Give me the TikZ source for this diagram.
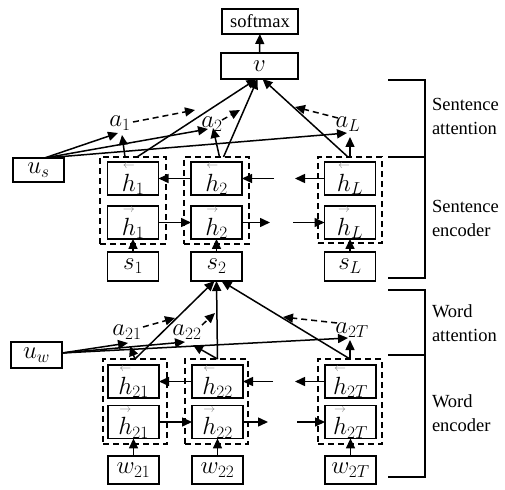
\documentclass[tikz,border=0pt]{standalone}
\usepackage{amsmath}
\usepackage{fontspec}
\setmainfont{Liberation Serif}
\usetikzlibrary{arrows.meta,calc}
\newcommand{\bwd}{\overset{\textcolor{gray}{\scriptscriptstyle\leftarrow}}{h}}
\newcommand{\fwd}{\overset{\textcolor{gray}{\scriptscriptstyle\rightarrow}}{h}}
\begin{document}
\begin{tikzpicture}[x=1pt,y=-1pt,
  every node/.style={inner sep=0pt, outer sep=0pt},
  box/.style={draw, line width=1.5pt, minimum width=51pt, minimum height=29pt, font=\fontsize{25}{29}\selectfont},
  grp/.style={draw, line width=1.5pt, dash pattern=on 6pt off 4pt},
  ar/.style={line width=1.5pt, -{Triangle[length=10pt,width=9pt]}},
  dar/.style={ar, dash pattern=on 6pt off 4pt},
  lab/.style={font=\fontsize{24}{28}\selectfont},
  side/.style={font=\fontsize{18.5}{24}\selectfont, align=left, anchor=west},
  brk/.style={line width=1.5pt}
]
\useasboundingbox (0,0) rectangle (505,489);

% top
\node[box, minimum width=76pt, minimum height=25pt, font=\fontsize{18.5}{22}\selectfont] (soft) at (260,21.5) {softmax};
\node[box, minimum width=77pt, minimum height=26pt] (v) at (259.5,66) {$v$};
\draw[ar] (v) -- (soft);

% sentence level
\node[box, minimum height=24pt] (us) at (38.5,170) {$u_s$};
\node[grp, minimum width=66pt, minimum height=87pt] (g1) at (133,200.5) {};
\node[grp, minimum width=65pt, minimum height=87pt] (g2) at (216.5,200.5) {};
\node[grp, minimum width=64pt, minimum height=86pt] (gL) at (350,200) {};
\node[box] (hb1) at (133,178.5) {$\bwd_1$};
\node[box] (hf1) at (133,222.5) {$\fwd_1$};
\node[box] (s1) at (133,266.5) {$s_1$};
\node[box] (hb2) at (216.5,178.5) {$\bwd_2$};
\node[box] (hf2) at (216.5,222.5) {$\fwd_2$};
\node[box] (s2) at (216.5,266.5) {$s_2$};
\node[box] (hbL) at (350,178.5) {$\bwd_L$};
\node[box] (hfL) at (350,222.5) {$\fwd_L$};
\node[box] (sL) at (350,266.5) {$s_L$};

\coordinate (st1) at (274,178.5);
\coordinate (st2) at (295,178.5);
\coordinate (sb1) at (270,222.5);
\coordinate (sb2) at (293,222.5);
\draw[ar] (hb2) -- (hb1);
\draw[ar] (st1) -- (hb2.east);
\draw[ar] (hbL.west) -- (st2);
\draw[ar] (hf1) -- (hf2);
\draw[ar] (hf2.east) -- (sb1);
\draw[ar] (sb2) -- (hfL.west);
\draw[ar] (s1) -- (hf1);
\draw[ar] (s2) -- (hf2);
\draw[ar] (sL) -- (hfL);

% sentence attention
\node[lab] (a1) at (120,123) {$a_1$};
\node[lab] (a2) at (212,124) {$a_2$};
\node[lab] (aL) at (348,124) {$a_L$};
\coordinate (usp) at ($(us.north)+(6,0)$);
\draw[ar] (usp) -- ($(a1)+(-2,10)$);
\draw[ar] (usp) -- ($(a2)+(-4,5)$);
\draw[ar] (usp) -- ($(aL)+(-1,9)$);
\draw[ar] ($(g1.north)+(-8,0)$) -- ($(a1)+(2,12)$);
\draw[ar] ($(g2.north)+(3,0)$) -- ($(a2)+(1,4)$);
\draw[ar] (gL.north) -- ($(aL)+(2,13)$);
\draw[ar] ($(g1.north)+(4,0)$) -- ($(v.south)+(-3,0)$);
\draw[ar] ($(g2.north)+(7,0)$) -- ($(v.south)+(-2,0)$);
\draw[ar] ($(gL.north)+(-2,0)$) -- ($(v.south)+(3,0)$);
\coordinate (d1) at (195,110);
\coordinate (d2) at (240,110);
\coordinate (dL) at (295,107);
\draw[dar] ($(a1)+(13,-1)$) -- (d1);
\draw[dar] ($(a2)+(10,-4)$) -- (d2);
\draw[dar] ($(aL)+(-10,-6)$) -- (dL);

% word level
\node[box, minimum height=26pt] (uw) at (36.5,355) {$u_w$};
\node[grp, minimum width=64pt, minimum height=85pt] (w1g) at (135,401.5) {};
\node[grp, minimum width=63pt, minimum height=85pt] (w2g) at (216.5,401.5) {};
\node[grp, minimum width=64pt, minimum height=85pt] (wTg) at (350,401.5) {};
\node[box] (hb21) at (133.5,381.5) {$\bwd_{21}$};
\node[box, minimum height=28pt] (hf21) at (133.5,422) {$\fwd_{21}$};
\node[box, minimum height=28pt] (w21) at (133.5,470) {$w_{21}$};
\node[box] (hb22) at (217.5,381.5) {$\bwd_{22}$};
\node[box, minimum height=28pt] (hf22) at (217.5,422) {$\fwd_{22}$};
\node[box, minimum height=28pt] (w22) at (217.5,470) {$w_{22}$};
\node[box] (hb2T) at (350.5,381.5) {$\bwd_{2T}$};
\node[box, minimum height=28pt] (hf2T) at (350.5,422) {$\fwd_{2T}$};
\node[box, minimum height=28pt] (w2T) at (350.5,470) {$w_{2T}$};

\coordinate (wt1) at (273,381.5);
\coordinate (wt2) at (295,381.5);
\coordinate (wb1) at (268,422);
\coordinate (wb2) at (297,422);
\draw[ar] (hb22) -- (hb21);
\draw[ar] (wt1) -- (hb22.east);
\draw[ar] (hb2T.west) -- (wt2);
\draw[ar] (hf21) -- (hf22);
\draw[ar] (hf22.east) -- (wb1);
\draw[ar] (wb2) -- (hf2T.west);
\draw[ar] (w21) -- (hf21);
\draw[ar] (w22) -- (hf22);
\draw[ar] (w2T) -- (hf2T);

% word attention
\node[lab] (a21) at (127,332) {$a_{21}$};
\node[lab] (a22) at (187,332) {$a_{22}$};
\node[lab] (a2T) at (352,330) {$a_{2T}$};
\coordinate (uwp) at ($(uw.east)+(0,-2)$);
\draw[ar] (uwp) -- ($(a21)+(1,11)$);
\draw[ar] (uwp) -- ($(a22)+(-2,10)$);
\draw[ar] (uwp) -- ($(a2T)+(-4,8)$);
\draw[ar] (w1g.north) -- ($(a21)+(3,14)$);
\draw[ar] ($(w2g.north)+(1,0)$) -- ($(a22)+(6,13)$);
\draw[ar] (wTg.north) -- ($(a2T)+(-2,10)$);
\draw[ar] (w1g.north) -- ($(s2.south)+(-2,0)$);
\draw[ar] ($(w2g.north)+(1,0)$) -- (s2.south);
\draw[ar] (wTg.north) -- ($(s2.south)+(5,0)$);
\coordinate (e1) at (175,318);
\coordinate (e2) at (215,313);
\coordinate (eT) at (283,317);
\draw[dar] ($(a21)+(16,-5)$) -- (e1);
\draw[dar] ($(a22)+(15,-7)$) -- (e2);
\draw[dar] ($(a2T)+(-15,-7)$) -- (eT);

% brackets
\draw[brk] (388,80) -- (425,80) -- (425,278) -- (388,278);
\draw[brk] (388,157) -- (425,157);
\draw[brk] (388,290) -- (425,290) -- (425,477) -- (388,477);
\draw[brk] (388,355) -- (425,355);
\node[side] (t1) at (432,116) {Sentence\\attention};
\node[side] (t2) at (432,218) {Sentence\\encoder};
\node[side] (t3) at (432,323) {Word\\attention};
\node[side] (t4) at (432,413) {Word\\encoder};
\end{tikzpicture}
\end{document}
